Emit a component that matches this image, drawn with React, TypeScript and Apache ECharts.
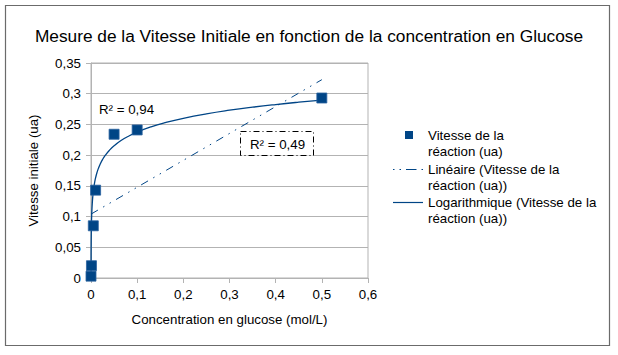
import React, { useEffect, useRef } from "react";
import * as echarts from "echarts";

// Measured data (concentration in mol/L, initial speed in ua)
const concentrations = [0, 0.001, 0.005, 0.01, 0.05, 0.1, 0.5];
const speeds = [0.003, 0.02, 0.085, 0.143, 0.234, 0.241, 0.293];

// Trend line coefficients
const linearSlope = 0.4377;
const linearIntercept = 0.104;
const linearRange = [0, 0.5];
const logA = 0.0323;
const logB = 0.312;
const logXs = [0.0000645, 0.0001, 0.0002, 0.0004, 0.0007, 0.001, 0.0015, 0.002, 0.003, 0.004, 0.005, 0.0065, 0.008, 0.01, 0.013, 0.016, 0.02, 0.025, 0.03, 0.04, 0.05, 0.065, 0.08, 0.1, 0.13, 0.16, 0.2, 0.25, 0.3, 0.35, 0.4, 0.45, 0.5];

const xTicks = ["0", "0,1", "0,2", "0,3", "0,4", "0,5", "0,6"];
const yTicks = ["0", "0,05", "0,1", "0,15", "0,2", "0,25", "0,3", "0,35"];

const r2Log = "R² = 0,94";
const r2Lin = "R² = 0,49";

const BLUE = "#004586";
const FONT = "'Liberation Sans', Arial, sans-serif";
const FS = 13.3;

export default function App() {
  const ref = useRef<HTMLDivElement>(null);
  useEffect(() => {
    const chart = echarts.init(ref.current!, null, { renderer: "svg" });
    const scatterData = concentrations.map((x, i) => [x, speeds[i]]);
    const linData = linearRange.map((x) => [x, linearIntercept + linearSlope * x]);
    const logData = logXs.map((x) => [x, Math.max(0, logA * Math.log(x) + logB)]);
    const fmt = (arr: string[], step: number) => (v: number) => {
      const idx = Math.round(v / step);
      return arr[idx] ?? "";
    };
    chart.setOption({
      animation: false,
      textStyle: { fontFamily: FONT },
      title: {
        text: "Mesure de la Vitesse Initiale en fonction de la concentration en Glucose",
        left: "center",
        top: 22,
        textStyle: { fontSize: 17.3, fontWeight: "normal", color: "#000", fontFamily: FONT },
      },
      grid: {
        left: 91,
        right: 250,
        top: 63,
        bottom: 77,
        show: true,
        borderColor: "#b3b3b3",
        borderWidth: 1,
      },
      xAxis: {
        type: "value",
        min: 0,
        max: 0.6,
        interval: 0.1,
        name: "Concentration en glucose (mol/L)",
        nameLocation: "middle",
        nameGap: 35,
        nameTextStyle: { fontSize: FS, color: "#000", fontFamily: FONT },
        axisLine: { show: true, lineStyle: { color: "#b3b3b3" } },
        axisTick: { show: true, length: 5, lineStyle: { color: "#b3b3b3" } },
        axisLabel: { formatter: fmt(xTicks, 0.1), fontSize: FS, color: "#000", margin: 10, fontFamily: FONT },
        splitLine: { show: false },
      },
      yAxis: {
        type: "value",
        min: 0,
        max: 0.35,
        interval: 0.05,
        name: "Vitesse initiale (ua)",
        nameLocation: "middle",
        nameGap: 51,
        nameTextStyle: { fontSize: FS, color: "#000", fontFamily: FONT },
        axisLine: { show: true, lineStyle: { color: "#b3b3b3" } },
        axisTick: { show: true, length: 5, lineStyle: { color: "#b3b3b3" } },
        axisLabel: { formatter: fmt(yTicks, 0.05), fontSize: FS, color: "#000", margin: 10, fontFamily: FONT },
        splitLine: { show: true, lineStyle: { color: "#b3b3b3", width: 1 } },
      },
      series: [
        {
          name: "Linéaire (Vitesse de la réaction (ua))",
          type: "line",
          data: linData,
          showSymbol: false,
          symbol: "none",
          lineStyle: { color: BLUE, width: 1, type: [8, 6, 1.5, 6, 1.5, 6] },
          z: 2,
        },
        {
          name: "Logarithmique (Vitesse de la réaction (ua))",
          type: "line",
          data: logData,
          showSymbol: false,
          symbol: "none",
          smooth: true,
          lineStyle: { color: BLUE, width: 1.3 },
          z: 3,
        },
        {
          name: "Vitesse de la réaction (ua)",
          type: "scatter",
          data: scatterData,
          symbol: "rect",
          symbolSize: 10,
          itemStyle: { color: BLUE, opacity: 1, borderColor: "#2a62a0", borderWidth: 0.8 },
          z: 4,
        },
      ],
      graphic: [
        {
          type: "rect",
          shape: { x: 5.5, y: 5.5, width: 604, height: 340 },
          style: { fill: "none", stroke: "#6b6b6b", lineWidth: 1.2 },
          silent: true,
          z: -10,
        },
        {
          type: "text",
          x: 99,
          y: 109,
          style: { text: r2Log, fontSize: FS, fill: "#000", fontFamily: FONT, verticalAlign: "middle" },
        },
        {
          type: "rect",
          shape: { x: 240.5, y: 131.5, width: 73, height: 24 },
          style: { fill: "#fff", stroke: "#000", lineWidth: 1, lineDash: [6, 3, 1, 3] },
          z: 10,
        },
        {
          type: "text",
          x: 250,
          y: 144,
          z: 11,
          style: { text: r2Lin, fontSize: FS, fill: "#000", fontFamily: FONT, verticalAlign: "middle" },
        },
        // Legend
        {
          type: "rect",
          shape: { x: 405, y: 131, width: 8, height: 8 },
          style: { fill: BLUE },
        },
        {
          type: "text",
          x: 428,
          y: 127,
          style: { text: "Vitesse de la\nréaction (ua)", fontSize: FS, lineHeight: 16.5, fill: "#000", fontFamily: FONT, verticalAlign: "top" },
        },
        {
          type: "line",
          shape: { x1: 393, y1: 169.5, x2: 423, y2: 169.5 },
          style: { stroke: BLUE, lineWidth: 1, lineDash: [1.5, 5, 1.5, 5, 9, 0] },
        },
        {
          type: "text",
          x: 428,
          y: 161,
          style: { text: "Linéaire (Vitesse de la\nréaction (ua))", fontSize: FS, lineHeight: 16.5, fill: "#000", fontFamily: FONT, verticalAlign: "top" },
        },
        {
          type: "line",
          shape: { x1: 393, y1: 202.5, x2: 423, y2: 202.5 },
          style: { stroke: BLUE, lineWidth: 1.2 },
        },
        {
          type: "text",
          x: 428,
          y: 194,
          style: { text: "Logarithmique (Vitesse de la\nréaction (ua))", fontSize: FS, lineHeight: 16.5, fill: "#000", fontFamily: FONT, verticalAlign: "top" },
        },
      ],
    });
    return () => chart.dispose();
  }, []);
  return (
    <div
      ref={ref}
      style={{ position: "absolute", left: 0, top: 0, width: 618, height: 355, background: "#fff" }}
    />
  );
}
